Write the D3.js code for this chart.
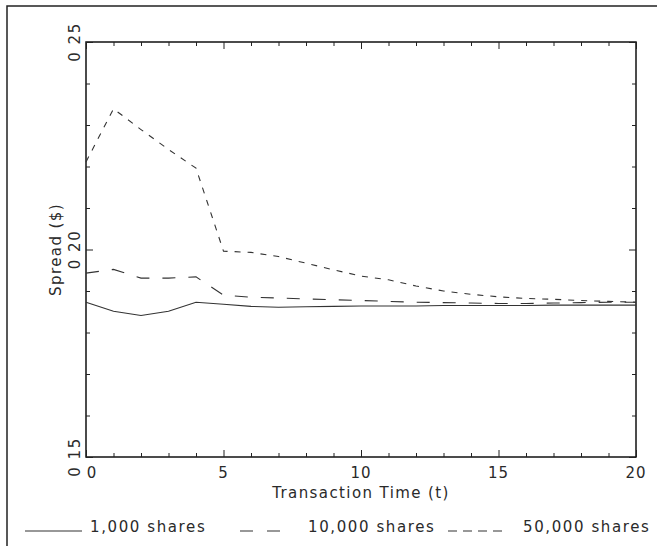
<!DOCTYPE html>
<html>
<head>
<meta charset="utf-8">
<script src="https://cdn.jsdelivr.net/npm/d3@7"></script>
<style>
  body { margin: 0; background: #fff; }
  text { font-family: "DejaVu Sans", sans-serif; fill: #2a2a2a; font-size: 15px; }
</style>
</head>
<body>
<div id="chart"></div>
<script>
// values
const times = [0, 1, 2, 3, 4, 5, 6, 7, 8, 9, 10, 11, 12, 13, 14, 15, 16, 17, 18, 19, 20]
const shares1000 = [0.1873, 0.1851, 0.1841, 0.1851, 0.1873, 0.1868, 0.1863, 0.1861, 0.1862, 0.1863, 0.1864,
  0.1864, 0.1864, 0.1865, 0.1865, 0.1865, 0.1865, 0.1866, 0.1866, 0.1866, 0.1866]
const shares10000 = [0.1943, 0.1952, 0.1931, 0.1931, 0.1934, 0.1890, 0.1885, 0.1883, 0.1881, 0.1879, 0.1877,
  0.1875, 0.1873, 0.1872, 0.1871, 0.1870, 0.1870, 0.1871, 0.1872, 0.1873, 0.1873]
const shares50000 = [0.2211, 0.2339, 0.2289, 0.2241, 0.2196, 0.1996, 0.1993, 0.1983, 0.1967, 0.1951, 0.1936,
  0.1927, 0.1912, 0.1900, 0.1892, 0.1886, 0.1882, 0.1880, 0.1877, 0.1875, 0.1873]
const seriesNames = ['1,000 shares', '10,000 shares', '50,000 shares']
const xTicks = [0, 5, 10, 15, 20]
const yTicks = [0.15, 0.20, 0.25]
const xMinor = [1, 2, 3, 4, 6, 7, 8, 9, 11, 12, 13, 14, 16, 17, 18, 19]
const yMinor = [0.16, 0.17, 0.18, 0.19, 0.21, 0.22, 0.23, 0.24]

const width = 657, height = 546
const margin = { top: 42, right: 21, bottom: 89, left: 86 }

const svg = d3.select('#chart')
  .append('svg')
  .attr('width', width)
  .attr('height', height)

// outer frame of the figure (runs off the page right and bottom)
svg.append('rect')
  .attr('x', 7).attr('y', 6)
  .attr('width', 680).attr('height', 600)
  .attr('fill', 'none')
  .attr('stroke', '#222')
  .attr('stroke-width', 1.5)

const x = d3.scaleLinear().domain([0, 20]).range([margin.left, width - margin.right])
const y = d3.scaleLinear().domain([0.15, 0.25]).range([height - margin.bottom, margin.top])

// plot box
svg.append('rect')
  .attr('x', x(0)).attr('y', y(0.25))
  .attr('width', x(20) - x(0)).attr('height', y(0.15) - y(0.25))
  .attr('fill', 'none')
  .attr('stroke', '#111')
  .attr('stroke-width', 1.5)

// ticks on all four sides, pointing in
function ticks(g, axis) {
  g.call(axis).call(g => g.select('.domain').remove())
  g.selectAll('.tick line').attr('stroke', '#222')
  g.selectAll('.tick text').remove()
}
svg.append('g').attr('transform', `translate(0,${y(0.15)})`)
  .call(g => ticks(g, d3.axisBottom(x).tickValues(xMinor).tickSize(-4)))
svg.append('g').attr('transform', `translate(0,${y(0.15)})`)
  .call(g => ticks(g, d3.axisBottom(x).tickValues(xTicks).tickSize(-7)))
svg.append('g').attr('transform', `translate(0,${y(0.25)})`)
  .call(g => ticks(g, d3.axisTop(x).tickValues(xMinor).tickSize(-4)))
svg.append('g').attr('transform', `translate(0,${y(0.25)})`)
  .call(g => ticks(g, d3.axisTop(x).tickValues(xTicks).tickSize(-7)))
svg.append('g').attr('transform', `translate(${x(0)},0)`)
  .call(g => ticks(g, d3.axisLeft(y).tickValues(yMinor).tickSize(-4)))
svg.append('g').attr('transform', `translate(${x(0)},0)`)
  .call(g => ticks(g, d3.axisLeft(y).tickValues(yTicks).tickSize(-7)))
svg.append('g').attr('transform', `translate(${x(20)},0)`)
  .call(g => ticks(g, d3.axisRight(y).tickValues(yMinor).tickSize(-4)))
svg.append('g').attr('transform', `translate(${x(20)},0)`)
  .call(g => ticks(g, d3.axisRight(y).tickValues(yTicks).tickSize(-7)))

// tick labels
svg.selectAll('text.xlab')
  .data(xTicks)
  .join('text')
  .attr('class', 'xlab')
  .attr('x', d => x(d) + (d === 0 ? 6 : 0))
  .attr('y', y(0.15) + 21)
  .attr('text-anchor', 'middle')
  .style('letter-spacing', '1px')
  .text(d => d)

svg.selectAll('text.ylab')
  .data(yTicks)
  .join('text')
  .attr('class', 'ylab')
  .attr('transform', d => `translate(${x(0) - 6},${y(d)}) rotate(-90)`)
  .attr('text-anchor', 'middle')
  .style('letter-spacing', '1.5px')
  .text(d => d3.format('.2f')(d).replace('.', ' '))

// axis titles
svg.append('text')
  .attr('x', (x(0) + x(20)) / 2)
  .attr('y', y(0.15) + 41)
  .attr('text-anchor', 'middle')
  .style('letter-spacing', '1.4px')
  .text('Transaction Time (t)')

svg.append('text')
  .attr('transform', `translate(${x(0) - 25},${y(0.20)}) rotate(-90)`)
  .attr('text-anchor', 'middle')
  .style('letter-spacing', '1.4px')
  .text('Spread ($)')

// lines
const dashes = ['none', '13,13', '6,7']
const allSeries = [shares1000, shares10000, shares50000]
const line = d3.line()
  .x((d, i) => x(times[i]))
  .y(d => y(d))

svg.selectAll('path.series')
  .data(allSeries)
  .join('path')
  .attr('class', 'series')
  .attr('d', line)
  .attr('fill', 'none')
  .attr('stroke', '#333')
  .attr('stroke-width', 1.1)
  .attr('stroke-dasharray', (d, i) => dashes[i])

// legend along the bottom
const legendX = [25, 240, 448]
const legendLen = [57, 40, 54]
const legendDash = ['none', '13,14', '9,6']
const legend = svg.selectAll('g.legend')
  .data(seriesNames)
  .join('g')
  .attr('class', 'legend')
  .attr('transform', (d, i) => `translate(${legendX[i]},531)`)

legend.append('line')
  .attr('x1', 0)
  .attr('x2', (d, i) => legendLen[i])
  .attr('stroke', '#333')
  .attr('stroke-width', 1.1)
  .attr('stroke-dasharray', (d, i) => legendDash[i])

legend.append('text')
  .attr('x', (d, i) => legendLen[i] + [8, 28, 21][i])
  .attr('y', 1)
  .style('letter-spacing', '1.6px')
  .text(d => d)
</script>
</body>
</html>
